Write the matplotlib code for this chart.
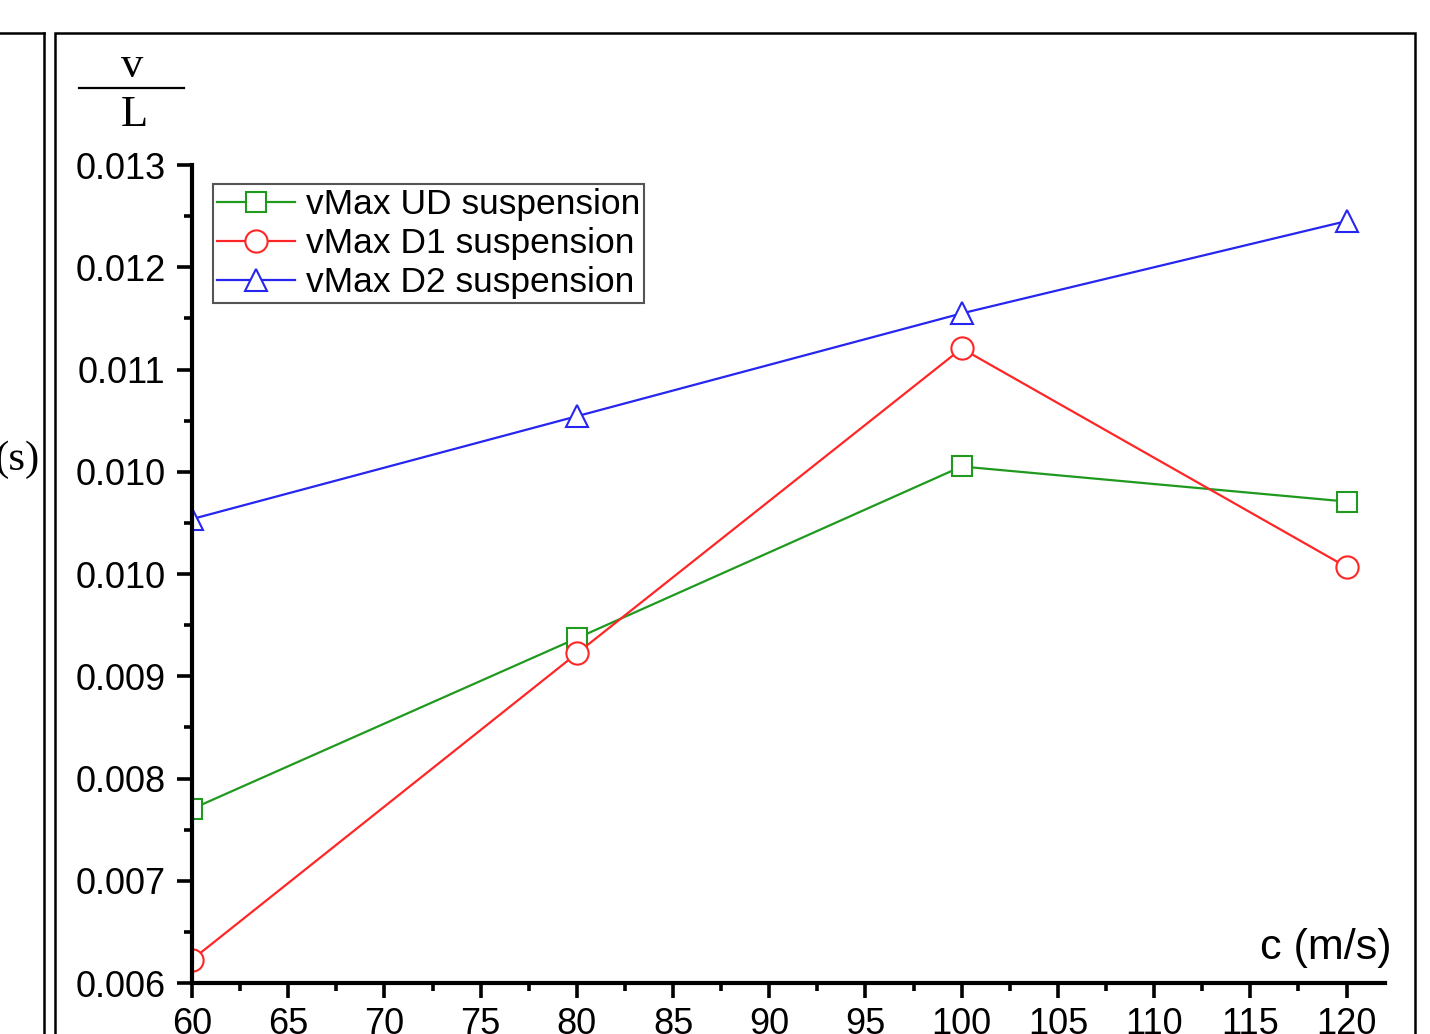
import numpy as np
import matplotlib
matplotlib.use('Agg')
import matplotlib.pyplot as plt
from matplotlib.patches import Rectangle
from matplotlib.lines import Line2D

# speed c (m/s)
c = [60, 80, 100, 120]

# v/L values
ud = [0.00749, 0.00895, 0.01042, 0.01012]
d1 = [0.00620, 0.00882, 0.01143, 0.00956]
d2 = [0.00997, 0.01085, 0.01173, 0.01252]

ytick_labels = ['0.006', '0.007', '0.008', '0.009', '0.010',
                '0.010', '0.011', '0.012', '0.013']
xticks = [60, 65, 70, 75, 80, 85, 90, 95, 100, 105, 110, 115, 120]

plt.rcParams['font.family'] = ['Liberation Sans', 'DejaVu Sans']

fig = plt.figure(figsize=(14.3, 10.34), dpi=100)
ax = fig.add_axes([192/1430, 1-983/1034, (1385-192)/1430, (983-165)/1034])

ms = 16
ax.plot(c, ud, '-s', color='#1f9a1f', lw=1.6, ms=ms-2, mfc='white', mew=1.5,
        label='vMax UD suspension')
ax.plot(c, d1, '-o', color='#ff2626', lw=1.6, ms=ms, mfc='white', mew=1.5,
        label='vMax D1 suspension')
ax.plot(c, d2, '-^', color='#2626f0', lw=1.6, ms=ms, mfc='white', mew=1.5,
        label='vMax D2 suspension')

ax.set_xlim(60, 122)
ax.set_ylim(0.006, 0.013)

yt = np.linspace(0.006, 0.013, 9)
ax.set_yticks(yt)
ax.set_yticklabels(ytick_labels)
ax.set_yticks((yt[:-1] + yt[1:]) / 2, minor=True)
ax.set_xticks(xticks)
ax.set_xticks(np.arange(62.5, 122, 5), minor=True)

for s in ['top', 'right']:
    ax.spines[s].set_visible(False)
for s in ['left', 'bottom']:
    ax.spines[s].set_linewidth(3)

ax.tick_params(which='major', direction='out', length=11, width=2.6,
               labelsize=26, pad=8)
ax.tick_params(which='minor', direction='out', length=6, width=2.6)
ax.tick_params(axis='x', pad=6)

leg = ax.legend(loc='upper left', bbox_to_anchor=(0.0176, 0.977),
                borderaxespad=0, fontsize=25.5, fancybox=False,
                handlelength=2.2, handletextpad=0.3, labelspacing=0.17,
                borderpad=0.12, framealpha=1)
leg.get_frame().set_edgecolor('#555555')
leg.get_frame().set_linewidth(1.5)

# axis titles
fig.text(1392/1430, 1-948/1034, 'c (m/s)', fontsize=31, ha='right', va='center')
fig.text(132/1430, 1-66/1034, 'v', fontsize=32, ha='center', va='center',
         family=['Liberation Serif', 'DejaVu Serif'])
fig.add_artist(Line2D([79/1430, 184/1430], [1-88/1034, 1-88/1034],
                      color='black', lw=1.6))
fig.text(134/1430, 1-115/1034, 'L', fontsize=32, ha='center', va='center',
         family=['Liberation Serif', 'DejaVu Serif'])

# neighbouring panel and frame borders
fig.text(-6/1430, 1-460/1034, '(s)', fontsize=31, ha='left', va='center',
         family=['Liberation Serif', 'DejaVu Serif'])
fig.add_artist(Line2D([0, 44/1430], [1-33/1034, 1-33/1034], color='black', lw=1.8))
fig.add_artist(Line2D([44/1430, 44/1430], [0, 1-33/1034], color='black', lw=1.8))
fig.add_artist(Rectangle((55/1430, -0.05), (1415-55)/1430, 1.05-33/1034,
                         fill=False, edgecolor='black', lw=1.8))

fig.savefig('out.png', dpi=100)
